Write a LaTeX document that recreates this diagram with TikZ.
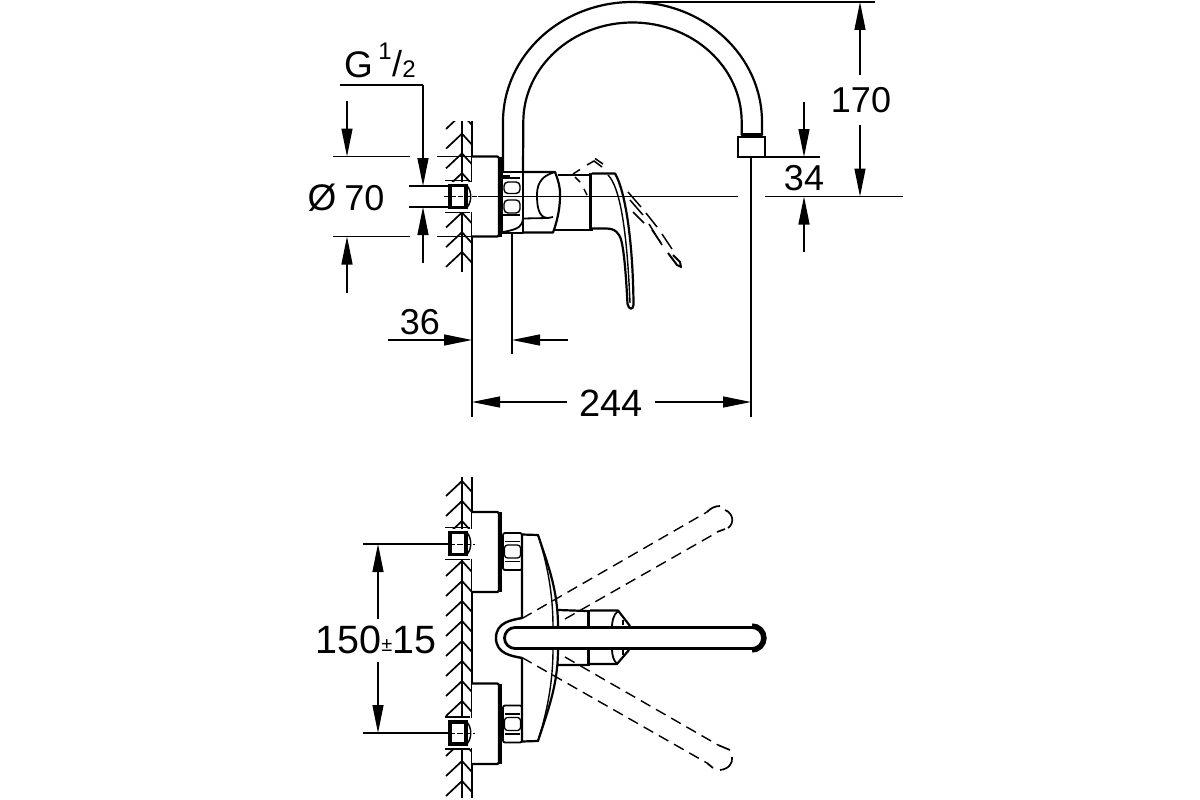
\documentclass[tikz,border=0pt]{standalone}
\usepackage{fontspec}
\setmainfont{Liberation Sans}
\usetikzlibrary{arrows.meta}
\tikzset{
 thinl/.style={line width=1.3pt},
 body/.style={line width=2.2pt,line join=round},
 thick2/.style={line width=3.6pt},
 dashl/.style={line width=1.4pt,dash pattern=on 11pt off 6.5pt},
 seg/.style={line width=1.5pt},
 dima/.style={line width=1.3pt,-{Triangle[length=28pt,width=11pt]}},
 lab/.style={inner sep=0pt,font=\fontsize{36}{36}\selectfont},
 labl/.style={inner sep=0pt,font=\fontsize{38}{38}\selectfont},
 labs/.style={inner sep=0pt,font=\fontsize{24}{24}\selectfont},
}
\newcommand{\wallhatch}[5]{%
 \begin{scope}
 \clip (440,#4) rectangle (473,#5);
 \foreach \yy in {#1,#2,...,#3}{
  \draw[line width=1.7pt] (446,\yy+15) -- (462,\yy) -- (472,\yy+11);
 }
 \end{scope}}
\newcommand{\socket}[1]{%
 \fill[white] (444,#1-15) rectangle (472,#1+15);
 \draw[line width=1.8pt] (445,#1-16) -- (470,#1-16) (445,#1+16) -- (470,#1+16);
 \draw[line width=3.4pt] (450,#1-11) rectangle (466,#1+11);
 \draw[line width=1.4pt] (467,#1-11) .. controls (472,#1-5) and (472,#1+5) .. (467,#1+11);
}
\newcommand{\rosette}[2]{%
 \draw[body,fill=white,rounded corners=1.5pt] (472,#1) -- (499,#1) -- (499,#2) -- (472,#2);
 \draw[line width=3.2pt] (500,#1) -- (500,#2);
}
\begin{document}
\begin{tikzpicture}[x=1pt,y=-1pt]
\useasboundingbox (0,0) rectangle (1200,800);
% ===== side view =====
\wallhatch{114}{133.7}{260}{121}{272}
\draw[line width=1.9pt] (462,121) -- (462,272);
\draw[line width=1.9pt] (472,121) -- (472,272);
\draw[thinl] (472,272) -- (472,417);
\socket{196.5}
\rosette{156.5}{236.5}
% spout
\draw[body,fill=white] (503,172) -- (503,122) arc[start angle=180,end angle=360,x radius=129.5,y radius=120] -- (762,135) -- (741.7,135)
  -- (741.7,122) arc[start angle=360,end angle=180,x radius=109.2,y radius=99.5] -- (523,172);
\draw[thinl] (741.7,134) -- (762,134);
\draw[line width=2.2pt,fill=white] (738,137) rectangle (765,157);
% mixer body
\draw[body,fill=white] (523,172) -- (555,172) .. controls (559,182) and (560.5,190) .. (560,197) .. controls (560,210) and (556,225) .. (553,232.5) -- (523,232.5);
\draw[line width=1.8pt] (555,172) .. controls (545,175) and (537,180) .. (537,195) .. controls (537,205) and (538,218) .. (548,218) -- (553,217);
% nut
\draw[body,fill=white] (502,172) -- (523,172) -- (523,233) -- (502,233) -- cycle;
\fill (503,175) rectangle (510,179);
\draw[line width=1.5pt] (503,178) -- (520,178) (503,215) -- (520,215);
\draw[line width=1.4pt,rounded corners=4pt] (504,182) rectangle (520,193.5);
\draw[line width=1.4pt,rounded corners=4pt] (504,200) rectangle (520,213);
\draw[line width=1.8pt] (548,218) -- (523,218.5) .. controls (522,226) and (520,229) .. (503,232);
% cartridge
\draw[body] (558,175) -- (591,175) (553,230) -- (591,230);
\draw[thick2] (591,173) -- (591,231);
% lever dashed
\draw[seg] (573,174) -- (580,169.5) (587,165) -- (594,161) -- (602,167) (595,158.5) -- (603,164);
\draw[seg] (575,177) -- (580,182) (584,189) -- (587,195) (593,203) -- (605,220) -- (612,216) (615,213) -- (624,208);
\draw[seg] (628,192) -- (641,207) (646,213) -- (657,227) (662,234) -- (672,249);
\draw[seg] (630,200) -- (643,215) (649,224) -- (662,245);
\draw[seg] (633,212) -- (644,223) (652,230) -- (661,243);
\draw[line width=2pt,line join=round] (668,253) -- (677,265) -- (681,267) -- (680,262) -- (673,255);
% lever
\draw[body,fill=white] (592,173.5) -- (615,173.5) .. controls (625,190) and (633,240) .. (633.5,305) .. controls (633,310) and (629,310) .. (627.5,304) .. controls (625.5,265) and (623,240) .. (619,235) .. controls (616,230) and (612,228.5) .. (606,228.5) -- (592,228.5);
\draw[line width=1.4pt] (608,175) .. controls (620,187) and (627,230) .. (630,303);
% centre lines
\draw[thinl] (478,196.5) -- (738,196.5);
\draw[line width=1pt,dash pattern=on 5pt off 2pt] (444,196.5) -- (478,196.5);
\draw[thinl] (765,196.5) -- (903,196.5);
% extension lines
\draw[thinl] (333,156.5) -- (410,156.5) (437,156.5) -- (472,156.5);
\draw[thinl] (333,236.5) -- (410,236.5) (437,236.5) -- (472,236.5);
\draw[thinl] (409,186) -- (449,186) (409,207) -- (449,207);
\draw[thinl] (632,2) -- (875,2);
\draw[thinl] (765,157) -- (820,157);
\draw[thinl] (751,157) -- (751,417);
\draw[thinl] (512,233) -- (512,354);
% dimensions
\node[inner sep=0pt,font=\fontsize{37}{37}\selectfont] (g) at (358.5,64.5) {G};
\node[labs] (gone) at (385,51) {1};
\node[lab] (gslash) at (397,64) {/};
\node[labs] (gtwo) at (409,69.5) {2};
\node[inner sep=0pt,font=\fontsize{37}{37}\selectfont] (dia) at (322,198) {Ø};
\node[lab] (d70) at (364.5,198) {70};
\node[lab] (n36) at (420,322) {36};
\node[labl] (n244) at (611,403) {244};
\node[lab] (n170) at (861,100) {170};
\node[lab] (n34) at (804,178) {34};
\coordinate (gl) at (340,85); \coordinate (gc) at (423,85);
\draw[thinl] (gl) -- (gc);
\draw[dima] (gc) -- (423,186);
\draw[dima] (423,263) -- (423,207);
\draw[dima] (347,101) -- (347,156.5);
\draw[dima] (347,293) -- (347,236.5);
\draw[dima] (388,340) -- (472,340);
\draw[dima] (568,340) -- (512,340);
\draw[dima] (567,402) -- (472,402);
\draw[dima] (655,402) -- (751,402);
\draw[dima] (860,75) -- (860,2);
\draw[dima] (860,125) -- (860,196.5);
\draw[dima] (804,102) -- (804,157);
\draw[dima] (804,252) -- (804,196.5);
% ===== top view =====
\wallhatch{461}{481}{781}{477}{798}
\draw[line width=1.9pt] (462,477) -- (462,798);
\draw[line width=1.9pt] (472,477) -- (472,798);
\socket{543.5}
\socket{733}
\rosette{512}{592}
\rosette{683.5}{764}
% nuts
\foreach \c in {551.5,724}{
 \draw[line width=1.8pt,fill=white,rounded corners=2pt] (503,\c-18.5) -- (522,\c-18.5) -- (522,\c+18.5) -- (503,\c+18.5) -- cycle;
 \draw[line width=1.3pt,rounded corners=3pt] (504.5,\c-6.5) rectangle (520.5,\c+6.5);
 \draw[line width=1.8pt] (505,\c-10) -- (520,\c-10) (505,\c+10) -- (520,\c+10);
}
% body
\draw[body] (522,618) -- (522,534.5) -- (538,535) .. controls (548,565) and (558,590) .. (558,627);
\draw[body] (522,658) -- (522,741.5) -- (538,741) .. controls (548,710) and (558,685) .. (558,649);
\draw[line width=1.4pt] (538,535) .. controls (546,560) and (553,590) .. (553,627);
\draw[line width=1.4pt] (538,741) .. controls (546,715) and (553,685) .. (553,649);
% cartridge
\draw[body] (558,610) -- (587,611) (558,665) -- (587,665);
\draw[thick2] (588.5,610) -- (588.5,665.5);
\draw[body] (590,610.5) -- (618,610.5) -- (630,626) (590,664) -- (617,664) -- (629,650);
\draw[line width=1.8pt] (618,611) .. controls (613,615) and (612,622) .. (612,627);
\draw[line width=1.8pt] (617,664) .. controls (613,660) and (612,654) .. (612,649);
\draw[line width=1.4pt] (623,620) -- (623,625) (623,650) -- (623,655);
% dashed handles
\draw[dashl] (522,618.5) -- (707,512);
\draw[dashl] (565,619) -- (716,533);
\draw[dashl] (522,657.5) -- (707,763);
\draw[dashl] (565,657) -- (718,745);
\begin{scope}[line width=1.7pt]
\draw (707,512) .. controls (711,508) and (715,506) .. (720,506);
\draw (725,510) .. controls (733,513) and (735,523) .. (728,528);
\draw (725,529) -- (717,532);
\draw (718,745) -- (730,750);
\draw (732,757) .. controls (733,763) and (729,769) .. (720,770);
\draw (713,768) -- (707,763);
\end{scope}
% lever
\draw[line width=2.4pt,fill=white] (522,618) .. controls (512,620) and (496,622) .. (496,638) .. controls (496,654) and (512,656) .. (522,658);
\draw[line width=2.8pt,fill=white] (515,627.5) -- (752,627.5) arc[start angle=-90,end angle=90,radius=10.5] -- (515,648.5) arc[start angle=90,end angle=270,radius=10.5] -- cycle;
\draw[line width=4.4pt] (752,625.5) arc[start angle=-90,end angle=90,radius=12.5];
% centre lines and dims
\draw[thinl] (363,544) -- (449,544) (363,733) -- (449,733);
\draw[line width=1pt,dash pattern=on 6pt off 2pt] (449,544) -- (475,544) (449,733) -- (475,733);
\node[inner sep=0pt,font=\fontsize{39.5}{39.5}\selectfont] (n150) at (376,640) {150\raisebox{2pt}{\fontsize{20}{20}\selectfont ±}15};
\draw[dima] (378,619) -- (378,544);
\draw[dima] (378,662) -- (378,733);
\end{tikzpicture}
\end{document}
